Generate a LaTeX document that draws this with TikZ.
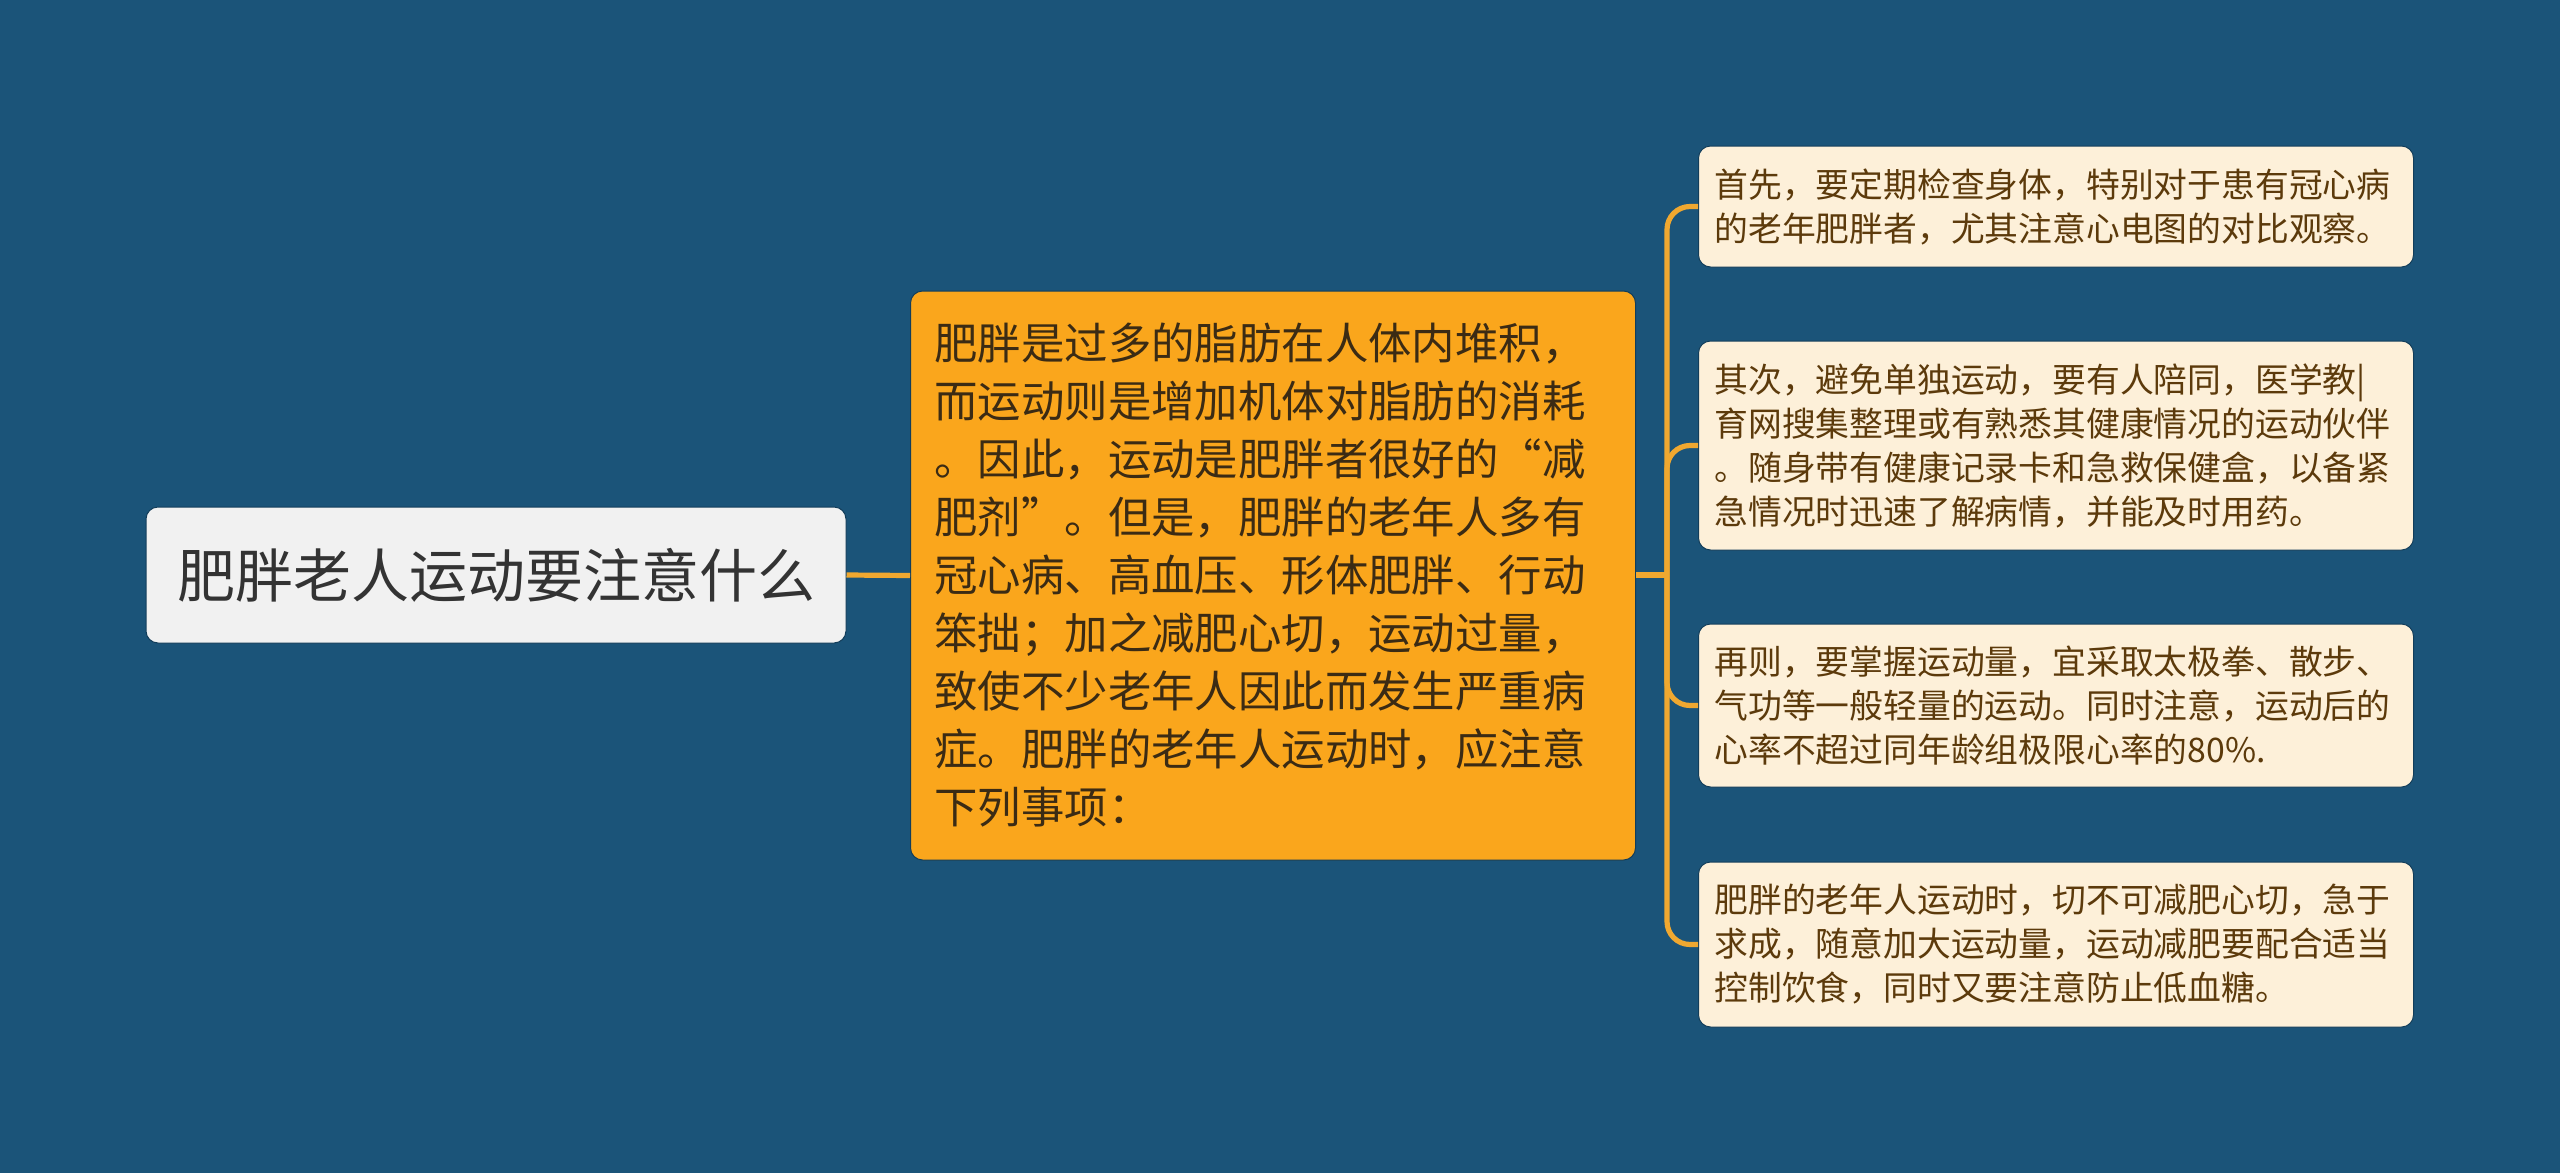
\documentclass[tikz,border=0pt]{standalone}
\usepackage{fontspec}
\setmainfont{Noto Sans CJK SC}
\definecolor{bgc}{HTML}{1B5479}
\definecolor{rootfill}{HTML}{F1F1F1}
\definecolor{roottext}{HTML}{333333}
\definecolor{midfill}{HTML}{FAA61C}
\definecolor{midtext}{HTML}{3B2B14}
\definecolor{leaffill}{HTML}{FDF0D9}
\definecolor{leaftext}{HTML}{5C3A0B}
\definecolor{linkc}{HTML}{F0A830}
\definecolor{edgec}{HTML}{123D5A}
\begin{document}
\begin{tikzpicture}[x=0.5pt,y=-0.5pt,
  rootbox/.style={fill=rootfill, draw=edgec, line width=0.5pt, text=roottext, rounded corners=6pt,
    minimum width=350pt, minimum height=68pt, inner sep=0pt,
    font=\fontsize{29}{35}\selectfont},
  midbox/.style={fill=midfill, draw=edgec, line width=0.5pt, text=midtext, rounded corners=6pt,
    text width=338.5pt, inner xsep=12pt, inner ysep=0pt, align=left,
    minimum height=284.5pt, anchor=west,
    font=\fontsize{21.7}{29}\selectfont},
  leafbox/.style={fill=leaffill, draw=edgec, line width=0.5pt, text=leaftext, rounded corners=6pt,
    text width=341.5pt, inner xsep=8pt, inner ysep=0pt, align=left, anchor=west,
    font=\fontsize{16.9}{22}\selectfont},
  link/.style={draw=linkc, line width=2.6pt},
  branch/.style={link, rounded corners=11.5pt}
]
\useasboundingbox[fill=bgc] (0,0) rectangle (2560,1173);

\node[rootbox] (root) at (496,575) {肥胖老人运动要注意什么};

\node[midbox] (mid) at (910,575.5) {肥胖是过多的脂肪在人体内堆积，\\
而运动则是增加机体对脂肪的消耗\\
。因此，运动是肥胖者很好的“减\\
肥剂”。但是，肥胖的老年人多有\\
冠心病、高血压、形体肥胖、行动\\
笨拙；加之减肥心切，运动过量，\\
致使不少老年人因此而发生严重病\\
症。肥胖的老年人运动时，应注意\\
下列事项：};

\node[leafbox, minimum height=60.5pt] (n1) at (1698,206.5) {首先，要定期检查身体，特别对于患有冠心病\\
的老年肥胖者，尤其注意心电图的对比观察。};

\node[leafbox, minimum height=104.5pt] (n2) at (1698,445.5) {其次，避免单独运动，要有人陪同，医学教|\\
育网搜集整理或有熟悉其健康情况的运动伙伴\\
。随身带有健康记录卡和急救保健盒，以备紧\\
急情况时迅速了解病情，并能及时用药。};

\node[leafbox, minimum height=81.5pt] (n3) at (1698,705.5) {再则，要掌握运动量，宜采取太极拳、散步、\\
气功等一般轻量的运动。同时注意，运动后的\\
心率不超过同年龄组极限心率的80\%.};

\node[leafbox, minimum height=82.5pt] (n4) at (1698,944.5) {肥胖的老年人运动时，切不可减肥心切，急于\\
求成，随意加大运动量，运动减肥要配合适当\\
控制饮食，同时又要注意防止低血糖。};

\coordinate (hub) at (1667,575);

\draw[link] (root.east) -- (mid.west);
\draw[link] (mid.east |- hub) -- (hub);
\draw[branch] (hub) |- (n1.west);
\draw[branch] (hub) |- (n2.west);
\draw[branch] (hub) |- (n3.west);
\draw[branch] (hub) |- (n4.west);
\end{tikzpicture}
\end{document}
